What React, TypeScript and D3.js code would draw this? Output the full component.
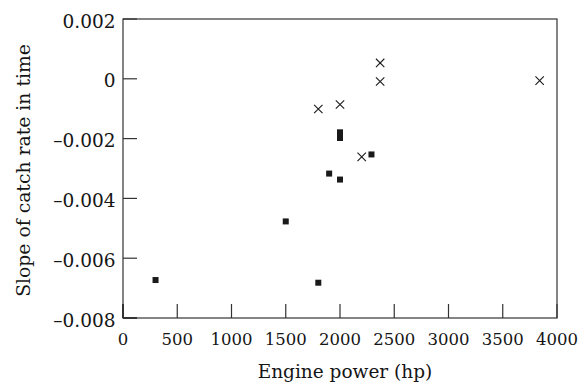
import React from "react";
import * as d3 from "d3";

const xTicks = [0, 500, 1000, 1500, 2000, 2500, 3000, 3500, 4000];
const yTicks = [0.002, 0, -0.002, -0.004, -0.006, -0.008];
const yTickLabels = ["0.002", "0", "–0.002", "–0.004", "–0.006", "–0.008"];

const squareHp = [300, 1500, 1800, 1900, 2000, 2000, 2000, 2290];
const squareSlope = [-0.00673, -0.00477, -0.00682, -0.00317, -0.00179, -0.00198, -0.00337, -0.00253];

const crossHp = [1800, 2000, 2200, 2370, 2370, 3840];
const crossSlope = [-0.00101, -0.00086, -0.00261, 0.00053, -0.00009, -0.00006];

const W = 579;
const H = 383;
const left = 123;
const right = 557;
const top = 19;
const bottom = 318;

export default function App() {
  const x = d3.scaleLinear().domain([0, 4000]).range([left, right]);
  const y = d3.scaleLinear().domain([-0.008, 0.002]).range([bottom, top]);
  const axisColor = "#333";
  const markColor = "#1a1a1a";
  const textColor = "#151515";
  const font = "DejaVu Serif";
  const tickLen = 14;
  const sq = 6;
  const cr = 4.2;

  return (
    <svg
      width={W}
      height={H}
      viewBox={`0 0 ${W} ${H}`}
      style={{ position: "absolute", left: 0, top: 0, background: "#fff" }}
    >
      <rect x={0} y={0} width={W} height={H} fill="#fff" />
      <rect
        x={left}
        y={top}
        width={right - left}
        height={bottom - top}
        fill="none"
        stroke={axisColor}
        strokeWidth={1.2}
      />
      {xTicks.map((t, i) => (
        <g key={"xt" + i}>
          <line
            x1={x(t)}
            x2={x(t)}
            y1={bottom}
            y2={bottom - tickLen}
            stroke={axisColor}
            strokeWidth={i === 0 ? 2 : 1.2}
          />
          <text
            x={x(t)}
            y={bottom + 26.5}
            textAnchor="middle"
            fontFamily={font}
            fontSize={16.5}
            fill={textColor}
          >
            {t}
          </text>
        </g>
      ))}
      {yTicks.map((t, i) => (
        <g key={"yt" + i}>
          <line
            x1={left}
            x2={left + tickLen}
            y1={y(t)}
            y2={y(t)}
            stroke={axisColor}
            strokeWidth={i === yTicks.length - 1 ? 2 : 1.2}
          />
          <text
            x={left - 7.5}
            y={y(t) + 8.5}
            textAnchor="end"
            fontFamily={font}
            fontSize={18.5}
            fill={textColor}
          >
            {yTickLabels[i]}
          </text>
        </g>
      ))}
      {squareHp.map((h, i) => (
        <rect
          key={"s" + i}
          x={x(h) - sq / 2}
          y={y(squareSlope[i]) - sq / 2}
          width={sq}
          height={sq}
          fill={markColor}
        />
      ))}
      {crossHp.map((h, i) => {
        const cx = x(h);
        const cy = y(crossSlope[i]);
        return (
          <path
            key={"c" + i}
            d={`M${cx - cr},${cy - cr}L${cx + cr},${cy + cr}M${cx - cr},${cy + cr}L${cx + cr},${cy - cr}`}
            stroke={markColor}
            strokeWidth={1.1}
            fill="none"
          />
        );
      })}
      <text
        x={345}
        y={378}
        textAnchor="middle"
        fontFamily={font}
        fontSize={18.5}
        fill={textColor}
      >
        Engine power (hp)
      </text>
      <text
        transform={`translate(30,${(top + bottom) / 2 + 2}) rotate(-90)`}
        textAnchor="middle"
        fontFamily={font}
        fontSize={18.8}
        fill={textColor}
      >
        Slope of catch rate in time
      </text>
    </svg>
  );
}
